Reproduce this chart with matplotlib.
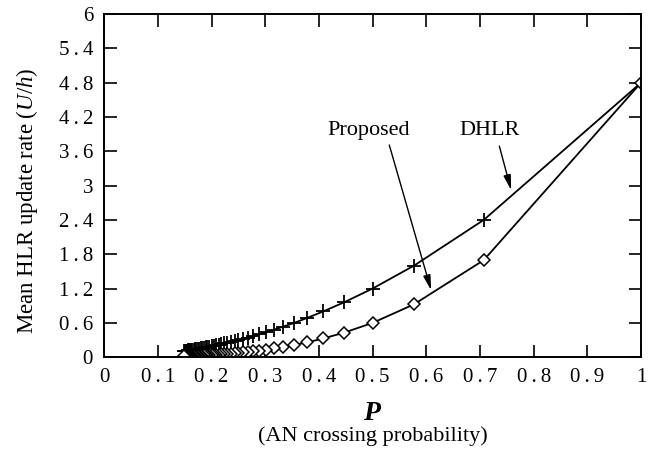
import numpy as np
import matplotlib
matplotlib.use('Agg')
import matplotlib.pyplot as plt

plt.rcParams['font.family'] = 'Liberation Serif'
plt.rcParams['mathtext.fontset'] = 'custom'
plt.rcParams['mathtext.rm'] = 'Liberation Serif'
plt.rcParams['mathtext.it'] = 'Liberation Serif:italic'
plt.rcParams['mathtext.bf'] = 'Liberation Serif:bold:italic'

# AN crossing probability P
p_values = [1.000, 0.707, 0.577, 0.500, 0.447, 0.408, 0.378, 0.354, 0.333, 0.316,
            0.302, 0.289, 0.277, 0.267, 0.258, 0.250, 0.243, 0.236, 0.229, 0.224,
            0.218, 0.213, 0.209, 0.204, 0.200, 0.196, 0.192, 0.189, 0.186, 0.183,
            0.180, 0.177, 0.174, 0.171, 0.169, 0.167, 0.164, 0.162, 0.160, 0.158,
            0.156, 0.154, 0.152, 0.151, 0.149]

# mean HLR update rate, DHLR scheme
dhlr = [4.80, 2.40, 1.60, 1.20, 0.96, 0.80, 0.686, 0.60, 0.533, 0.48,
        0.436, 0.40, 0.369, 0.343, 0.32, 0.30, 0.282, 0.267, 0.253, 0.24,
        0.229, 0.218, 0.209, 0.20, 0.192, 0.185, 0.178, 0.171, 0.166, 0.16,
        0.155, 0.15, 0.145, 0.141, 0.137, 0.133, 0.130, 0.126, 0.123, 0.12,
        0.117, 0.114, 0.112, 0.109, 0.107]

# mean HLR update rate, proposed scheme
proposed = [4.80, 1.697, 0.924, 0.60, 0.429, 0.327, 0.259, 0.212, 0.178, 0.152,
            0.132, 0.115, 0.102, 0.092, 0.083, 0.075, 0.068, 0.063, 0.058, 0.054,
            0.050, 0.047, 0.044, 0.041, 0.038, 0.036, 0.034, 0.032, 0.031, 0.029,
            0.028, 0.027, 0.025, 0.024, 0.023, 0.022, 0.021, 0.020, 0.020, 0.019,
            0.018, 0.018, 0.017, 0.016, 0.016]

x_ticks = [0, 0.1, 0.2, 0.3, 0.4, 0.5, 0.6, 0.7, 0.8, 0.9, 1]
x_labels = ['0', '0.1', '0.2', '0.3', '0.4', '0.5', '0.6', '0.7', '0.8', '0.9', '1']
y_ticks = [0, 0.6, 1.2, 1.8, 2.4, 3, 3.6, 4.2, 4.8, 5.4, 6]
y_labels = ['0', '0.6', '1.2', '1.8', '2.4', '3', '3.6', '4.2', '4.8', '5.4', '6']


def spaced(s):
    # the original tick labels are set with loose letter spacing
    return '\u2009'.join(s)


fig = plt.figure(figsize=(6.72, 4.51), dpi=100)
ax = fig.add_axes([0.155, 0.208, 0.799, 0.761])

ax.plot(p_values, dhlr, color='black', lw=1.3, marker='+', markersize=10,
        markeredgewidth=1.3)
ax.plot(p_values, proposed, color='black', lw=1.3, marker='D', markersize=6.5,
        markerfacecolor='white', markeredgewidth=1.1)

ax.set_xlim(0, 1)
ax.set_ylim(0, 6)
ax.set_xticks(x_ticks)
ax.set_xticklabels([spaced(s) for s in x_labels])
ax.set_yticks(y_ticks)
ax.set_yticklabels([spaced(s) for s in y_labels])
ax.tick_params(direction='in', length=9, width=1.2, labelsize=15,
               top=True, right=True, pad=8)
for s in ax.spines.values():
    s.set_linewidth(1.4)

ax.set_ylabel(r'Mean HLR update rate ($U/h$)', fontsize=16.5)
ax.yaxis.set_label_coords(-0.12, 0.455)
fig.text(0.555, 0.084, r'$\mathbf{P}$', fontsize=20, ha='center', va='center')
fig.text(0.555, 0.033, '(AN crossing probability)', fontsize=16,
         ha='center', va='center')

arrow = dict(arrowstyle='-|>,head_length=0.9,head_width=0.22', color='black',
             lw=1.0, shrinkA=0, shrinkB=0)
ax.annotate('', xy=(0.609, 1.17), xytext=(0.531, 3.71), arrowprops=arrow)
ax.text(0.493, 3.97, 'Proposed', fontsize=16, ha='center', va='center')
ax.annotate('', xy=(0.758, 2.92), xytext=(0.736, 3.69), arrowprops=arrow)
ax.text(0.717, 3.97, 'DHLR', fontsize=16, ha='center', va='center')

fig.savefig('out.png', dpi=100)
